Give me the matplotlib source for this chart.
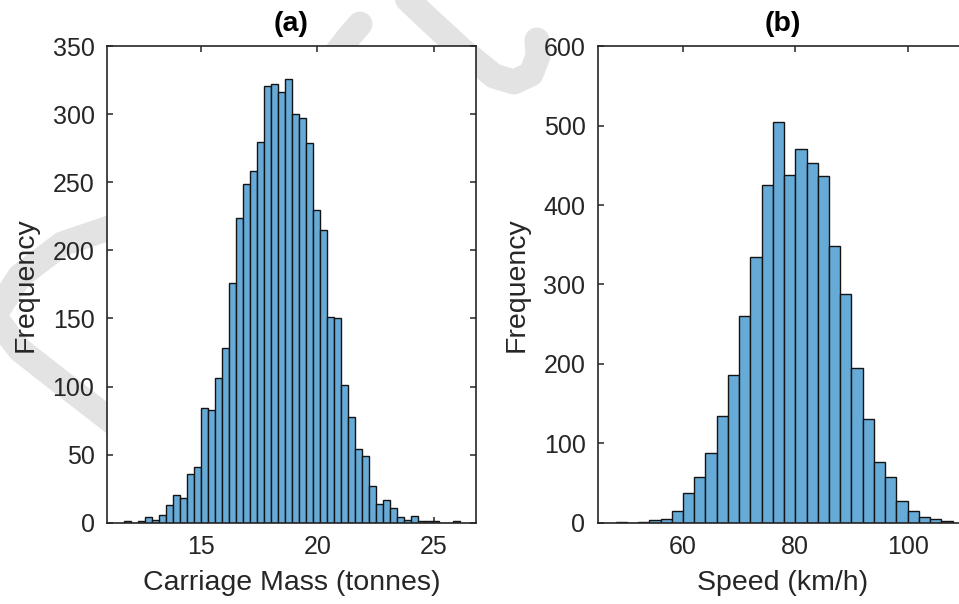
import numpy as np
import matplotlib.pyplot as plt
from matplotlib.lines import Line2D

# --------------------------------------------------
# histogram counts (bin edges + frequency per bin)
# --------------------------------------------------
# (a) carriage mass, bins of 0.3 tonnes starting at 11.7 t
mass_bin_start = 11.7
mass_bin_width = 0.3
mass_counts = [1, 0, 1, 4, 2, 6, 13, 20, 18, 36, 41, 84, 83, 106, 128, 176,
               224, 249, 258, 280, 321, 322, 316, 326, 300, 297, 279, 230,
               215, 151, 150, 101, 78, 54, 49, 27, 14, 17, 11, 4, 2, 5, 1, 1,
               1, 0, 0, 1]

# (b) speed, bins of 2 km/h starting at 48 km/h
speed_bin_start = 48
speed_bin_width = 2
speed_counts = [1, 0, 1, 3, 5, 15, 38, 57, 88, 134, 186, 260, 334, 425, 504,
                438, 471, 453, 436, 348, 288, 195, 131, 76, 58, 27, 15, 7, 5, 2]

# --------------------------------------------------
# styling
# --------------------------------------------------
plt.rcParams['font.family'] = ['Liberation Sans', 'DejaVu Sans']
axis_col = '#262626'
face_col = '#66aad7'   # matlab blue with 0.6 face alpha on white
edge_col = '#141414'
wm_col = '#e3e3e3'
tick_fs = 18
label_fs = 20.5

fig = plt.figure(figsize=(9.59, 6.04), dpi=100)
W, H = 959.0, 604.0


def px(x, y):
    """pixel coords (origin top-left) -> figure fraction"""
    return x / W, 1 - y / H


# --------------------------------------------------
# faint watermark strokes behind the axes
# --------------------------------------------------
strokes = [
    [(398, -10), (425, 16), (462, 50), (494, 76), (514, 82), (531, 74),
     (538, 56), (537, 40)],
    [(360, 24), (348, 38), (334, 56)],
    [(115, 226), (62, 244), (20, 276), (-6, 316), (20, 350), (66, 386),
     (115, 424)],
]
for pts in strokes:
    xs, ys = zip(*[px(*p) for p in pts])
    fig.add_artist(Line2D(xs, ys, color=wm_col, lw=18,
                          solid_capstyle='round', solid_joinstyle='round',
                          zorder=0))

# --------------------------------------------------
# axes (b extends beyond the right edge of the figure)
# --------------------------------------------------
ax_w = 369 / W
ax_h = 476.5 / H
ax_b = 81.3 / H
ax1 = fig.add_axes([107 / W, ax_b, ax_w, ax_h])
ax2 = fig.add_axes([598 / W, ax_b, ax_w, ax_h])


def draw_hist(ax, start, width, counts):
    edges = start + width * np.arange(len(counts))
    ax.bar(edges, counts, width=width, align='edge', color=face_col,
           edgecolor=edge_col, linewidth=1.0, zorder=2)


draw_hist(ax1, mass_bin_start, mass_bin_width, mass_counts)
draw_hist(ax2, speed_bin_start, speed_bin_width, speed_counts)

ax1.set_xlim(10.99, 26.8)
ax1.set_ylim(0, 350)
ax1.set_xticks([15, 20, 25])
ax1.set_yticks(np.arange(0, 351, 50))
ax1.set_xlabel('Carriage Mass (tonnes)', fontsize=label_fs, color=axis_col,
               labelpad=8)
ax1.set_title('(a)', fontsize=label_fs, fontweight='bold', pad=11)

ax2.set_xlim(44.86, 44.86 + 369 / 5.615)
ax2.set_ylim(0, 600)
ax2.set_xticks([60, 80, 100])
ax2.set_yticks(np.arange(0, 601, 100))
ax2.set_xlabel('Speed (km/h)', fontsize=label_fs, color=axis_col, labelpad=8)
ax2.set_title('(b)', fontsize=label_fs, fontweight='bold', pad=11)

for ax in (ax1, ax2):
    ax.set_ylabel('Frequency', fontsize=label_fs, color=axis_col, labelpad=10)
    ax.set_facecolor('white')
    ax.set_zorder(1)
    for s in ax.spines.values():
        s.set_color(axis_col)
        s.set_linewidth(1.2)
        s.set_zorder(3)
    ax.tick_params(direction='in', length=4.5, width=1.1, colors=axis_col,
                   labelsize=tick_fs, top=True, right=True, pad=9)

fig.savefig('out.png', dpi=100)
